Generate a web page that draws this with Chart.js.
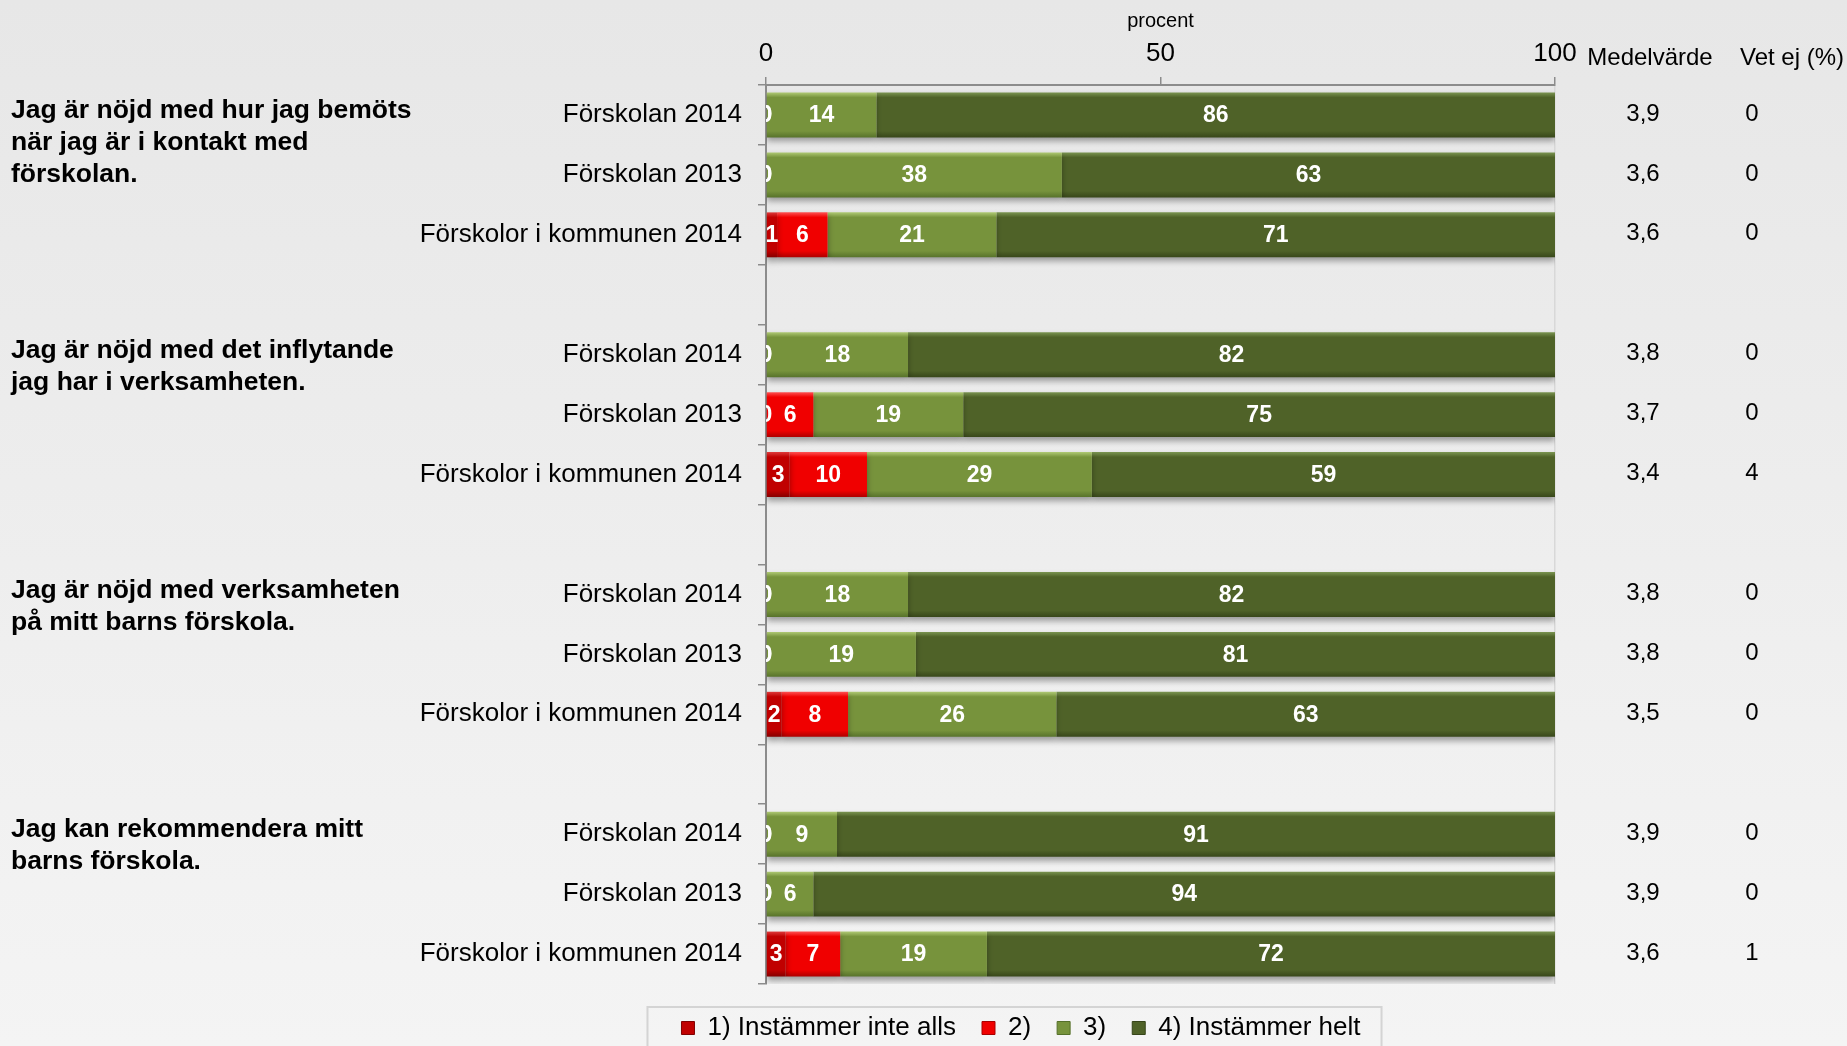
<!DOCTYPE html>
<html>
<head>
<meta charset="utf-8">
<script src="https://cdn.jsdelivr.net/npm/chart.js@4/dist/chart.umd.min.js"></script>
<style>
    html, body { margin: 0; padding: 0; }
    body {
        width: 1847px; height: 1046px; overflow: hidden;
        background: linear-gradient(#e7e7e7, #f4f4f4);
        font-family: "Liberation Sans", Arial, sans-serif;
    }
    #wrap { position: relative; width: 1847px; height: 1046px; }
</style>
</head>
<body>
<div id="wrap"><canvas id="surveyChart"></canvas></div>
<script>
// rows of the chart, an empty label is the gap between two questions
const categories = [
    'Förskolan 2014', 'Förskolan 2013', 'Förskolor i kommunen 2014', '',
    'Förskolan 2014', 'Förskolan 2013', 'Förskolor i kommunen 2014', '',
    'Förskolan 2014', 'Förskolan 2013', 'Förskolor i kommunen 2014', '',
    'Förskolan 2014', 'Förskolan 2013', 'Förskolor i kommunen 2014'
];
const questions = [
    ['Jag är nöjd med hur jag bemöts', 'när jag är i kontakt med', 'förskolan.'],
    ['Jag är nöjd med det inflytande', 'jag har i verksamheten.'],
    ['Jag är nöjd med verksamheten', 'på mitt barns förskola.'],
    ['Jag kan rekommendera mitt', 'barns förskola.']
];
const questionRows = [0, 4, 8, 12];

// percentages, the labels show them rounded
const seriesNames = ['1) Instämmer inte alls', '2)', '3)', '4) Instämmer helt'];
const notAtAll = [0, 0, 1.4, null, 0, 0, 3.0, null, 0, 0, 2.0, null, 0, 0, 2.5];
const two      = [0, 0, 6.4, null, 0, 6, 9.8, null, 0, 0, 8.4, null, 0, 0, 6.9];
const three    = [14, 37.5, 21.4, null, 18, 19, 28.5, null, 18, 19, 26.4, null, 9, 6, 18.6];
const fully    = [86, 62.5, 70.8, null, 82, 75, 58.7, null, 82, 81, 63.2, null, 91, 94, 72];

const meanValues = ['3,9', '3,6', '3,6', '', '3,8', '3,7', '3,4', '', '3,8', '3,8', '3,5', '', '3,9', '3,9', '3,6'];
const dontKnow   = ['0', '0', '0', '', '0', '0', '4', '', '0', '0', '0', '', '0', '0', '1'];

const xTicks = [0, 50, 100];

const baseColors  = ['#c00000', '#f00000', '#77933c', '#4f6228'];
const lightColors = ['#e04040', '#ff5a5a', '#b5cf7a', '#7f9a55'];
const darkColors  = ['#800000', '#a80000', '#55702a', '#364519'];

const FONT = '"Liberation Sans", Arial, sans-serif';

function barFill(ctx, i) {
    if (ctx.type !== 'data' || !ctx.chart.chartArea) return baseColors[i];
    const chart = ctx.chart;
    const y = chart.scales.y.getPixelForValue(ctx.dataIndex);
    const g = chart.ctx.createLinearGradient(0, y - 23, 0, y + 23);
    g.addColorStop(0, lightColors[i]);
    g.addColorStop(0.12, baseColors[i]);
    g.addColorStop(0.85, baseColors[i]);
    g.addColorStop(1, darkColors[i]);
    return g;
}

const seriesData = [notAtAll, two, three, fully];
const datasets = seriesData.map((d, i) => ({
    label: seriesNames[i],
    data: d,
    backgroundColor: (c) => barFill(c, i),
    borderWidth: 0,
    barPercentage: 0.75,
    categoryPercentage: 1
}));

// labels, questions and the two right columns
const extras = {
    id: 'extras',
    afterLayout(chart) {
        chart.legend.top += 5;
        chart.legend.bottom += 5;
    },
    beforeDatasetsDraw(chart) {
        const ctx = chart.ctx;
        ctx.save();
        ctx.shadowColor = 'rgba(0,0,0,0.35)';
        ctx.shadowBlur = 6;
        ctx.shadowOffsetY = 4;
    },
    afterDatasetsDraw(chart) {
        const ctx = chart.ctx;
        ctx.restore();
        const area = chart.chartArea;
        ctx.save();
        ctx.beginPath();
        ctx.rect(area.left, area.top, area.right - area.left, area.bottom - area.top);
        ctx.clip();
        ctx.fillStyle = '#fff';
        ctx.font = 'bold 23px ' + FONT;
        ctx.textAlign = 'center';
        ctx.textBaseline = 'middle';
        chart.data.datasets.forEach((ds, di) => {
            chart.getDatasetMeta(di).data.forEach((el, j) => {
                const v = ds.data[j];
                if (v === null) return;
                ctx.fillText(String(Math.round(v)), (el.x + el.base) / 2, el.y + 1);
            });
        });
        ctx.restore();
    },
    afterDraw(chart) {
        const ctx = chart.ctx;
        const y = chart.scales.y;
        ctx.save();
        // questions
        ctx.fillStyle = '#000';
        ctx.font = 'bold 26.5px ' + FONT;
        ctx.textAlign = 'left';
        ctx.textBaseline = 'middle';
        questions.forEach((lines, q) => {
            const top = y.getPixelForValue(questionRows[q]) - 4;
            lines.forEach((t, k) => ctx.fillText(t, 11, top + k * 32));
        });
        // right columns
        ctx.font = '24px ' + FONT;
        ctx.textAlign = 'center';
        ctx.fillText('Medelvärde', 1650, 58);
        ctx.fillText('Vet ej (%)', 1792, 58);
        categories.forEach((c, j) => {
            const py = y.getPixelForValue(j);
            ctx.fillText(meanValues[j], 1643, py - 1);
            ctx.fillText(dontKnow[j], 1752, py - 1);
        });
        // legend frame
        const lg = chart.legend;
        const boxes = lg.legendHitBoxes;
        if (boxes && boxes.length) {
            const l = boxes[0].left - 34;
            const last = boxes[boxes.length - 1];
            const r = last.left + last.width + 21;
            ctx.strokeStyle = '#d4d4d4';
            ctx.lineWidth = 2;
            ctx.strokeRect(l, 1007, r - l, 80);
        }
        ctx.restore();
    }
};

const config = {
    type: 'bar',
    data: { labels: categories, datasets: datasets },
    options: {
        indexAxis: 'y',
        responsive: false,
        animation: false,
        layout: { padding: { left: 390, right: 195, top: 0, bottom: 0 } },
        scales: {
            x: {
                position: 'top',
                stacked: true,
                min: 0,
                max: 100,
                afterBuildTicks: (s) => { s.ticks = xTicks.map(v => ({ value: v })); },
                ticks: { font: { family: FONT, size: 26 }, color: '#000', padding: 8, maxRotation: 0 },
                grid: {
                    drawOnChartArea: true,
                    color: (c) => (c.tick && c.tick.value === 100 ? '#d8d8d8' : 'rgba(0,0,0,0)'),
                    tickColor: '#8c8c8c',
                    tickLength: 8,
                    lineWidth: 1.5
                },
                border: { color: '#8c8c8c', width: 2 },
                title: { display: true, text: 'procent', font: { family: FONT, size: 20 }, color: '#000', padding: { top: 9, bottom: 0 } },
                afterFit: (s) => { s.height = 85; }
            },
            y: {
                stacked: true,
                ticks: { font: { family: FONT, size: 26 }, color: '#000', padding: 16, autoSkip: false },
                grid: { drawOnChartArea: false, color: '#8c8c8c', tickLength: 8, lineWidth: 1.5 },
                border: { color: '#8c8c8c', width: 2 },
                afterFit: (s) => { s.width = 376; }
            },
            y2: {
                type: 'category',
                labels: categories,
                position: 'right',
                ticks: { display: false },
                grid: { display: false },
                border: { display: false },
                afterFit: (s) => { s.width = 97; }
            }
        },
        plugins: {
            tooltip: { enabled: false },
            legend: {
                position: 'bottom',
                labels: {
                    font: { family: FONT, size: 26 },
                    color: '#000',
                    boxWidth: 13,
                    boxHeight: 13,
                    padding: 26,
                    generateLabels: () => seriesNames.map((n, i) => ({
                        text: n,
                        fillStyle: baseColors[i],
                        strokeStyle: darkColors[i],
                        lineWidth: 1,
                        datasetIndex: i
                    }))
                }
            }
        }
    },
    plugins: [extras]
};

const canvas = document.getElementById('surveyChart');
canvas.width = 1847;
canvas.height = 1046;
const surveyChart = new Chart(canvas, config);
</script>
</body>
</html>
